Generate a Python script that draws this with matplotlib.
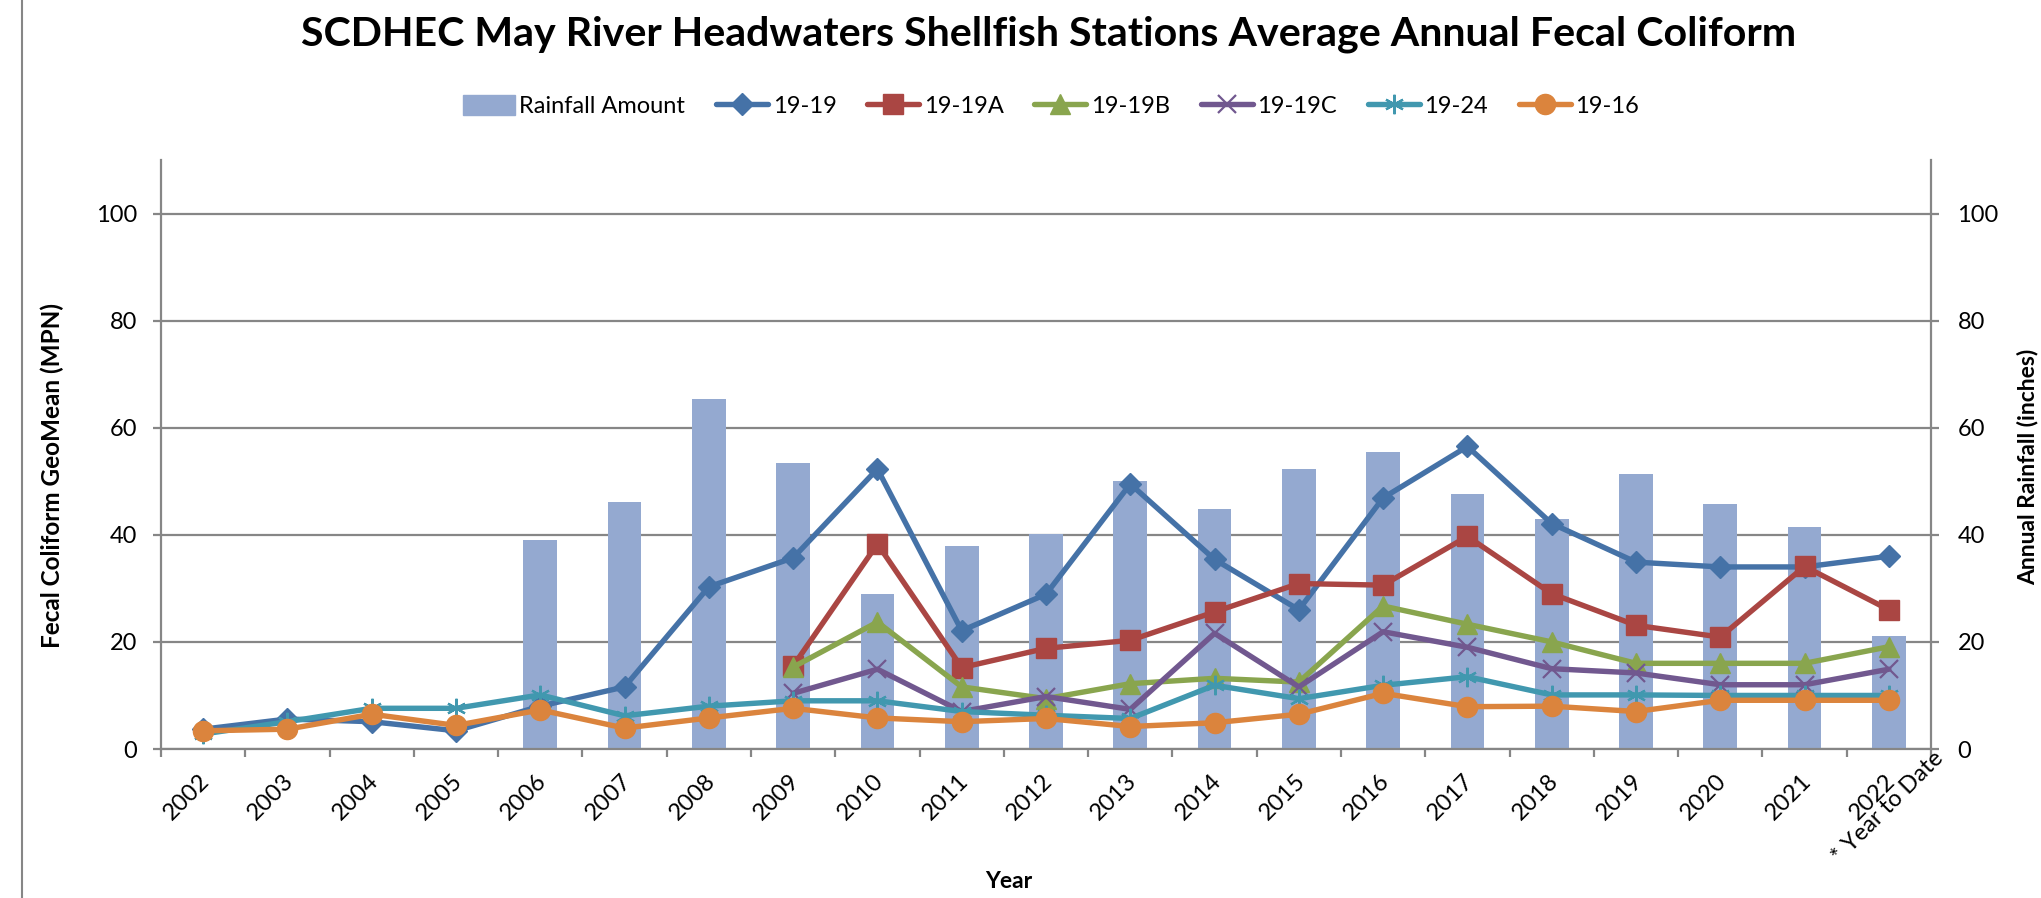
import numpy as np
import matplotlib
matplotlib.use('Agg')
import matplotlib.pyplot as plt
from matplotlib.lines import Line2D
from matplotlib.patches import Patch
from matplotlib.transforms import ScaledTranslation

nan = np.nan
years = ['2002', '2003', '2004', '2005', '2006', '2007', '2008', '2009', '2010', '2011',
         '2012', '2013', '2014', '2015', '2016', '2017', '2018', '2019', '2020', '2021', '2022']
rainfall = [nan, nan, nan, nan, 39.0, 46.1, 65.4, 53.4, 29.0, 38.0,
            40.1, 50.1, 44.9, 52.3, 55.4, 47.7, 43.0, 51.3, 45.7, 41.5, 21.1]
s_19_19 = [3.7, 5.6, 5.1, 3.4, 8.0, 11.6, 30.3, 35.7, 52.3, 22.1,
           28.9, 49.5, 35.4, 26.0, 46.9, 56.5, 42.1, 34.9, 34.0, 34.0, 36.0]
s_19_19A = [nan, nan, nan, nan, nan, nan, nan, 15.5, 38.3, 15.2,
            18.8, 20.3, 25.6, 30.9, 30.6, 39.7, 29.0, 23.1, 20.9, 34.1, 26.0]
s_19_19B = [nan, nan, nan, nan, nan, nan, nan, 15.3, 23.7, 11.6,
            9.4, 12.2, 13.2, 12.5, 26.7, 23.3, 20.0, 16.0, 16.0, 16.0, 19.1]
s_19_19C = [nan, nan, nan, nan, nan, nan, nan, 10.4, 14.9, 7.0,
            9.8, 7.4, 21.6, 11.6, 21.9, 19.0, 15.0, 14.2, 12.0, 12.0, 14.9]
s_19_24 = [2.8, 5.1, 7.6, 7.6, 10.1, 6.2, 8.0, 9.0, 9.0, 7.0,
           6.3, 5.7, 11.9, 9.4, 11.9, 13.5, 10.1, 10.1, 10.0, 10.0, 10.0]
s_19_16 = [3.4, 3.7, 6.5, 4.4, 7.3, 3.9, 5.8, 7.6, 5.8, 5.1,
           5.7, 4.2, 4.9, 6.5, 10.4, 7.9, 8.0, 7.0, 9.1, 9.1, 9.1]
yticks = [0, 20, 40, 60, 80, 100]

title = 'SCDHEC May River Headwaters Shellfish Stations Average Annual Fecal Coliform'
series = [
    ('19-19', s_19_19, '#4572A7', 'D', 11.0, 1.0),
    ('19-19A', s_19_19A, '#AA4643', 's', 14.0, 1.0),
    ('19-19B', s_19_19B, '#89A54E', '^', 14.5, 1.0),
    ('19-19C', s_19_19C, '#71588F', 'x', 13.5, 1.6),
    ('19-24', s_19_24, '#4198AF', (6, 2, 0), 14.0, 1.6),
    ('19-16', s_19_16, '#DB843D', 'o', 14.5, 1.0),
]

plt.rcParams['font.family'] = ['Lato', 'DejaVu Sans']
GRAY = '#868686'
BAR = '#94A9D0'

fig = plt.figure(figsize=(20.41, 8.98), dpi=100)
W, H = 2041, 898
ax = fig.add_axes([161 / W, 1 - 749 / H, (1931 - 161) / W, (749 - 160) / H])
ax2 = ax.twinx()
ax.set_zorder(2)
ax2.set_zorder(1)
ax.patch.set_visible(False)

x = np.arange(len(years))

# rainfall bars on the right axis
ax2.bar(x, rainfall, width=0.40, color=BAR, zorder=2, label='Rainfall Amount')
ax2.set_ylim(0, 110)
ax2.set_yticks(yticks)
ax2.grid(axis='y', color=GRAY, linewidth=1.6, zorder=0)
ax2.set_axisbelow(True)

handles = [Patch(color=BAR, label='Rainfall Amount')]
for name, vals, col, mk, ms, mew in series:
    ln, = ax.plot(x, vals, color=col, lw=3.9, marker=mk, markersize=ms,
                  markerfacecolor=col, markeredgecolor=col, markeredgewidth=mew,
                  label=name, solid_joinstyle='round', solid_capstyle='round', zorder=3)
    handles.append(ln)

ax.set_xlim(-0.5, len(years) - 0.5)
ax.set_ylim(0, 110)
ax.set_yticks(yticks)

for a in (ax, ax2):
    for s in a.spines.values():
        s.set_visible(False)
ax.spines['left'].set_visible(True)
ax.spines['bottom'].set_visible(True)
ax2.spines['right'].set_visible(True)
for s in (ax.spines['left'], ax.spines['bottom'], ax2.spines['right']):
    s.set_color(GRAY)
    s.set_linewidth(1.6)

ax.tick_params(axis='y', direction='out', length=6, width=1.6, color=GRAY,
               labelsize=17, pad=11, labelcolor='black')
ax2.tick_params(axis='y', direction='out', length=6, width=1.6, color=GRAY,
                labelsize=17, pad=13, labelcolor='black')

# x ticks: labels at category centres, tick marks at category boundaries
ax.set_xticks(x)
ax.set_xticklabels(years, rotation=45, ha='center', va='center', rotation_mode='anchor', fontsize=17)
ax.tick_params(axis='x', which='major', length=0, pad=34.3)
ax.set_xticks(np.arange(-0.5, len(years), 1.0), minor=True)
ax.tick_params(axis='x', which='minor', direction='out', length=5.5, width=1.6, color=GRAY)
off = ScaledTranslation(-0.163, 0, fig.dpi_scale_trans)
for lab in ax.get_xticklabels():
    lab.set_transform(lab.get_transform() + off)

ax.annotate('* Year to Date', xy=(20, 0), xycoords='data', xytext=(-0.7, -41.8),
            textcoords='offset points', rotation=45, ha='center', va='center',
            rotation_mode='anchor', fontsize=17)

fig.text(1049 / W, 1 - 34 / H, title, ha='center', va='center', fontsize=29.6, fontweight='bold')
fig.text(52 / W, 1 - 476 / H, 'Fecal Coliform GeoMean (MPN)', rotation=90, ha='center', va='center',
         fontsize=17.5, fontweight='bold')
fig.text(2028 / W, 1 - 467 / H, 'Annual Rainfall (inches)', rotation=90, ha='center', va='center',
         fontsize=16.5, fontweight='bold')
fig.text(1009 / W, 1 - 882 / H, 'Year', ha='center', va='center', fontsize=16.5, fontweight='bold')

fig.legend(handles=handles, loc='center', bbox_to_anchor=(1051 / W, 1 - 106 / H), ncol=7,
           frameon=False, fontsize=17, handlelength=2.2, handleheight=0.9, handletextpad=0.2,
           columnspacing=1.3)

fig.add_artist(Line2D([22 / W, 22 / W], [0, 1], transform=fig.transFigure, color=GRAY, lw=1.5))

fig.savefig('out.png', dpi=100)
